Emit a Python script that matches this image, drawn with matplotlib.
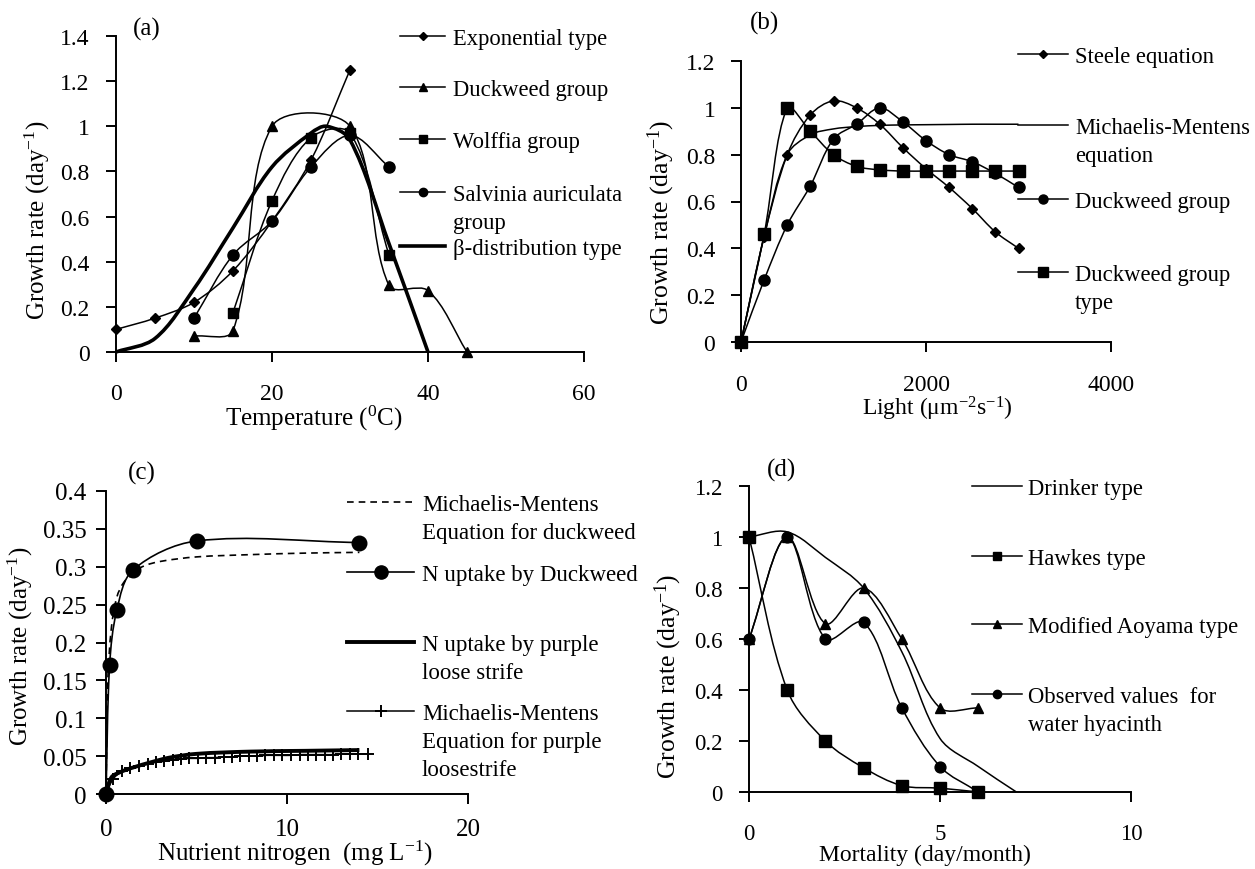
import numpy as np
import matplotlib
matplotlib.use('Agg')
import matplotlib.pyplot as plt
from matplotlib.path import Path
from matplotlib.patches import PathPatch
from matplotlib.lines import Line2D

plt.rcParams['font.family'] = ['Liberation Serif', 'DejaVu Serif']
plt.rcParams['mathtext.fontset'] = 'custom'
plt.rcParams['mathtext.rm'] = 'Liberation Serif'
plt.rcParams['mathtext.it'] = 'Liberation Serif:italic'
plt.rcParams['mathtext.bf'] = 'Liberation Serif:bold'

# ---------------- data: panel (a) temperature ----------------
temp_exp = [0, 5, 10, 15, 20, 25, 30]
rate_exp = [0.10, 0.15, 0.22, 0.36, 0.58, 0.85, 1.25]
temp_duck = [10, 15, 20, 30, 35, 40, 45]
rate_duck = [0.07, 0.095, 1.0, 1.0, 0.295, 0.272, 0.0]
temp_wolf = [15, 20, 25, 30, 35]
rate_wolf = [0.175, 0.67, 0.95, 0.97, 0.43]
temp_salv = [10, 15, 20, 25, 30, 35]
rate_salv = [0.15, 0.43, 0.58, 0.82, 0.96, 0.82]
temp_beta = [0, 5, 10, 15, 20, 25, 27, 30, 35, 40]
rate_beta = [0.0, 0.06, 0.28, 0.55, 0.82, 0.97, 1.0, 0.94, 0.48, 0.0]
a_xticks = [0, 20, 40, 60]
a_yticks = [0, 0.2, 0.4, 0.6, 0.8, 1.0, 1.2, 1.4]

# ---------------- data: panel (b) light ----------------
light = [0, 250, 500, 750, 1000, 1250, 1500, 1750, 2000, 2250, 2500, 2750, 3000]
rate_steele = [0.0, 0.45, 0.80, 0.97, 1.03, 1.0, 0.93, 0.83, 0.74, 0.66, 0.57, 0.47, 0.40]
rate_mm = [0.0, 0.45, 0.80, 0.885, 0.91, 0.92, 0.925, 0.927, 0.928, 0.929, 0.93, 0.93, 0.93]
rate_dgroup = [0.0, 0.265, 0.50, 0.667, 0.867, 0.93, 1.0, 0.94, 0.86, 0.80, 0.77, 0.72, 0.66]
rate_dtype = [0.0, 0.46, 1.0, 0.90, 0.80, 0.75, 0.735, 0.73, 0.73, 0.73, 0.73, 0.73, 0.73]
b_xticks = [0, 2000, 4000]
b_yticks = [0, 0.2, 0.4, 0.6, 0.8, 1.0, 1.2]

# ---------------- data: panel (c) nutrient nitrogen ----------------
n_mm_duck = [0, 0.1, 0.3, 0.6, 1.0, 1.5, 2.0, 3.0, 5.0, 8.0, 11.0, 14.0]
r_mm_duck = [0.0, 0.15, 0.22, 0.26, 0.28, 0.29, 0.30, 0.307, 0.313, 0.316, 0.318, 0.319]
n_duck = [0, 0.2, 0.6, 1.5, 5.0, 14.0]
r_duck = [0.0, 0.17, 0.243, 0.296, 0.334, 0.332]
n_purple = [0, 0.3, 0.8, 1.5, 2.5, 3.5, 5.0, 8.0, 11.0, 14.0]
r_purple = [0.0, 0.022, 0.029, 0.035, 0.042, 0.048, 0.053, 0.056, 0.057, 0.058]
n_mm_purple = [0, 0.4, 0.9, 1.35, 1.8, 2.3, 2.75, 3.2, 3.7, 4.15, 4.6, 5.1, 5.55, 6.0, 6.5,
               6.95, 7.4, 7.9, 8.35, 8.8, 9.3, 9.75, 10.2, 10.7, 11.15, 11.6, 12.1,
               12.55, 13.0, 13.5, 13.95, 14.45]
r_mm_purple = [0.0, 0.02, 0.030, 0.034, 0.037, 0.040, 0.042, 0.043, 0.045, 0.046, 0.047,
               0.047, 0.048, 0.048, 0.049, 0.049, 0.050, 0.050, 0.050, 0.051, 0.051,
               0.051, 0.051, 0.052, 0.052, 0.052, 0.052, 0.052, 0.053, 0.053, 0.053, 0.053]
c_xticks = [0, 10, 20]
c_yticks = [0, 0.05, 0.1, 0.15, 0.2, 0.25, 0.3, 0.35, 0.4]

# ---------------- data: panel (d) mortality ----------------
mort_drinker = [0, 1, 2, 3, 4, 5, 6, 7]
r_drinker = [1.0, 1.02, 0.92, 0.80, 0.55, 0.21, 0.10, 0.0]
mort = [0, 1, 2, 3, 4, 5, 6]
r_hawkes = [1.0, 0.40, 0.20, 0.095, 0.025, 0.015, 0.0]
r_aoyama = [0.6, 1.0, 0.66, 0.80, 0.60, 0.33, 0.33]
r_observed = [0.6, 1.0, 0.60, 0.665, 0.33, 0.10, 0.0]
d_xticks = [0, 5, 10]
d_yticks = [0, 0.2, 0.4, 0.6, 0.8, 1.0, 1.2]

YLABEL = 'Growth rate (day$^{\\mathrm{-1}}$)'

W, H = 1255, 870
fig = plt.figure(figsize=(W / 100, H / 100), dpi=100)


def fx(px):
    return px / W


def fy(py):
    return 1 - py / H


def make_axes(x0, x1, y0, y1):
    return fig.add_axes([fx(x0), fy(y0), (x1 - x0) / W, (y0 - y1) / H])


def smooth_line(ax, x, y, lw=1.1, ls='-', color='k'):
    """Excel-like smoothed line: cubic Bezier segments, tangents scaled by chord lengths
    (computed in display space, then mapped back through the axes transform)."""
    data = np.column_stack([np.asarray(x, float), np.asarray(y, float)])
    pts = ax.transData.transform(data)
    n = len(pts)
    verts = [pts[0]]
    codes = [Path.MOVETO]

    def tangent(i):
        a = pts[i - 1] if i > 0 else pts[i]
        b = pts[i + 1] if i < n - 1 else pts[i]
        return b - a

    for i in range(n - 1):
        p1, p2 = pts[i], pts[i + 1]
        seg = np.hypot(*(p2 - p1))
        prev = np.hypot(*(p1 - pts[i - 1])) if i > 0 else 0.0
        nxt = np.hypot(*(pts[i + 2] - p2)) if i + 2 < n else 0.0
        f1 = seg / (prev + seg) / 3.0 if prev + seg > 0 else 0.0
        f2 = seg / (seg + nxt) / 3.0 if seg + nxt > 0 else 0.0
        c1 = p1 + tangent(i) * f1
        c2 = p2 - tangent(i + 1) * f2
        verts += [c1, c2, p2]
        codes += [Path.CURVE4] * 3
    verts = ax.transData.inverted().transform(np.array(verts))
    patch = PathPatch(Path(verts, codes), facecolor='none', edgecolor=color,
                      lw=lw, ls=ls, transform=ax.transData, clip_on=False, zorder=2)
    ax.add_patch(patch)


def markers(ax, x, y, m, ms, mew=1.0):
    ax.plot(x, y, linestyle='none', marker=m, ms=ms, color='k', mfc='k', mec='k',
            mew=mew, clip_on=False, zorder=3)


def style_axes(ax, xt, yt, xlim, ylim, xpad, ypad, fs):
    ax.set_xlim(*xlim)
    ax.set_ylim(*ylim)
    ax.set_xticks(xt)
    ax.set_yticks(yt)
    ax.set_xticklabels(['{:g}'.format(v) for v in xt])
    ax.set_yticklabels(['{:g}'.format(v) for v in yt])
    for s in ['top', 'right']:
        ax.spines[s].set_visible(False)
    for s in ['left', 'bottom']:
        ax.spines[s].set_linewidth(1.4)
        ax.spines[s].set_color('k')
    ax.tick_params(axis='both', direction='out', length=7, width=1.4, colors='k',
                   labelsize=fs)
    ax.tick_params(axis='x', pad=xpad)
    ax.tick_params(axis='y', pad=ypad)
    ax.patch.set_alpha(0)


def set_labels(ax, xlabel, xl_px, xfs, ylabel, yl_px, yfs):
    ax.set_xlabel(xlabel, fontsize=xfs)
    ax.set_ylabel(ylabel, fontsize=yfs)
    ax.xaxis.set_label_coords(fx(xl_px[0]), fy(xl_px[1]), transform=fig.transFigure)
    ax.yaxis.set_label_coords(fx(yl_px[0]), fy(yl_px[1]), transform=fig.transFigure)


def legend_entry(x0, x1, y, tx, text, marker=None, ms=6, lw=1.1, ls='-', mew=1.0, fs=16.3):
    fig.add_artist(Line2D([fx(x0), fx(x1)], [fy(y), fy(y)], transform=fig.transFigure,
                          color='k', lw=lw, ls=ls))
    if marker is not None:
        fig.add_artist(Line2D([fx((x0 + x1) / 2)], [fy(y)], transform=fig.transFigure,
                              linestyle='none', marker=marker, ms=ms, color='k',
                              mfc='k', mec='k', mew=mew))
    em = fs * 100 / 72.0
    fig.text(fx(tx), fy(y - 0.34 * em), text, ha='left', va='top', fontsize=fs,
             linespacing=1.43)


# ======================= panel (a) =======================
axa = make_axes(116, 584, 353, 37)
style_axes(axa, a_xticks, a_yticks, (0, 60), (0, 1.4), 15, 12, 17)
smooth_line(axa, temp_beta, rate_beta, lw=2.6)
smooth_line(axa, temp_exp, rate_exp)
smooth_line(axa, temp_duck, rate_duck)
smooth_line(axa, temp_wolf, rate_wolf)
smooth_line(axa, temp_salv, rate_salv)
markers(axa, temp_exp, rate_exp, 'D', 5.5)
markers(axa, temp_duck, rate_duck, '^', 7.5)
markers(axa, temp_wolf, rate_wolf, 's', 7.2)
markers(axa, temp_salv, rate_salv, 'o', 8)
set_labels(axa, 'Temperature ($^{\\mathrm{0}}$C)', (314, 404), 18, YLABEL, (52, 220), 18)
fig.text(fx(133), fy(29), '(a)', ha='left', va='center', fontsize=18)
legend_entry(400, 445, 37, 453, 'Exponential type', 'D', 4)
legend_entry(400, 445, 88, 453, 'Duckweed group', '^', 6)
legend_entry(400, 445, 140, 453, 'Wolffia group', 's', 5.5)
legend_entry(400, 445, 193, 453, 'Salvinia auriculata\ngroup', 'o', 6)
legend_entry(400, 445, 247, 453, '\u03b2-distribution type', None, lw=2.6)

# ======================= panel (b) =======================
axb = make_axes(741, 1111, 343, 62)
style_axes(axb, b_xticks, b_yticks, (0, 4000), (0, 1.2), 16, 11.5, 17)
smooth_line(axb, light, rate_mm)
smooth_line(axb, light, rate_steele)
smooth_line(axb, light, rate_dgroup)
smooth_line(axb, light, rate_dtype)
markers(axb, light, rate_steele, 'D', 5.3)
markers(axb, light, rate_dgroup, 'o', 8)
markers(axb, light, rate_dtype, 's', 8.2)
set_labels(axb, 'Light (\u03bcm$^{\\mathrm{-2}}$s$^{\\mathrm{-1}}$)', (937, 395), 17, YLABEL,
           (677, 222), 18.5)
fig.text(fx(750), fy(23), '(b)', ha='left', va='center', fontsize=18)
legend_entry(1018, 1068, 55, 1075, 'Steele equation', 'D', 4.2)
legend_entry(1018, 1068, 126, 1075, 'Michaelis-Mentens\nequation', None)
legend_entry(1018, 1068, 200, 1075, 'Duckweed group', 'o', 6.5)
legend_entry(1018, 1068, 273, 1075, 'Duckweed group\ntype', 's', 6.5)

# ======================= panel (c) =======================
axc = make_axes(106, 468, 795, 492)
style_axes(axc, c_xticks, c_yticks, (0, 20), (0, 0.4), 10, 7, 18)
smooth_line(axc, n_mm_duck, r_mm_duck, lw=1.2, ls=(0, (4, 3)))
smooth_line(axc, n_duck, r_duck, lw=1.2)
smooth_line(axc, n_purple, r_purple, lw=2.8)
smooth_line(axc, n_mm_purple, r_mm_purple, lw=1.1)
markers(axc, n_duck, r_duck, 'o', 10.5)
markers(axc, n_mm_purple, r_mm_purple, '+', 8, mew=1.4)
set_labels(axc, 'Nutrient nitrogen  (mg L$^{\\mathrm{-1}}$)', (295, 839), 18, YLABEL,
           (35, 646), 18)
fig.text(fx(128), fy(473), '(c)', ha='left', va='center', fontsize=18)
legend_entry(347, 414, 503, 422, 'Michaelis-Mentens\nEquation for duckweed', None,
             lw=1.2, ls=(0, (4, 3)), fs=16.5)
legend_entry(347, 414, 573, 422, 'N uptake by Duckweed', 'o', 9.5, lw=1.2, fs=16.5)
legend_entry(347, 414, 643, 422, 'N uptake by purple\nloose strife', None, lw=2.8, fs=16.5)
legend_entry(347, 414, 712, 422, 'Michaelis-Mentens\nEquation for purple\nloosestrife',
             '+', 8, lw=1.1, mew=1.4, fs=16.5)

# ======================= panel (d) =======================
axd = make_axes(749, 1131, 793, 487)
style_axes(axd, d_xticks, d_yticks, (0, 10), (0, 1.2), 15, 12, 16.5)
smooth_line(axd, mort_drinker, r_drinker)
smooth_line(axd, mort, r_hawkes)
smooth_line(axd, mort, r_aoyama)
smooth_line(axd, mort, r_observed)
markers(axd, mort, r_hawkes, 's', 8)
markers(axd, mort, r_aoyama, '^', 7.5)
markers(axd, mort, r_observed, 'o', 7.8)
set_labels(axd, 'Mortality (day/month)', (925, 845), 17, YLABEL, (684, 676), 18.5)
fig.text(fx(767), fy(470), '(d)', ha='left', va='center', fontsize=18)
legend_entry(972, 1022, 487, 1028, 'Drinker type', None)
legend_entry(972, 1022, 557, 1028, 'Hawkes type', 's', 6)
legend_entry(972, 1022, 625, 1028, 'Modified Aoyama type', '^', 6)
legend_entry(972, 1022, 695, 1028, 'Observed values  for\nwater hyacinth', 'o', 6)

fig.savefig('out.png', dpi=100)
